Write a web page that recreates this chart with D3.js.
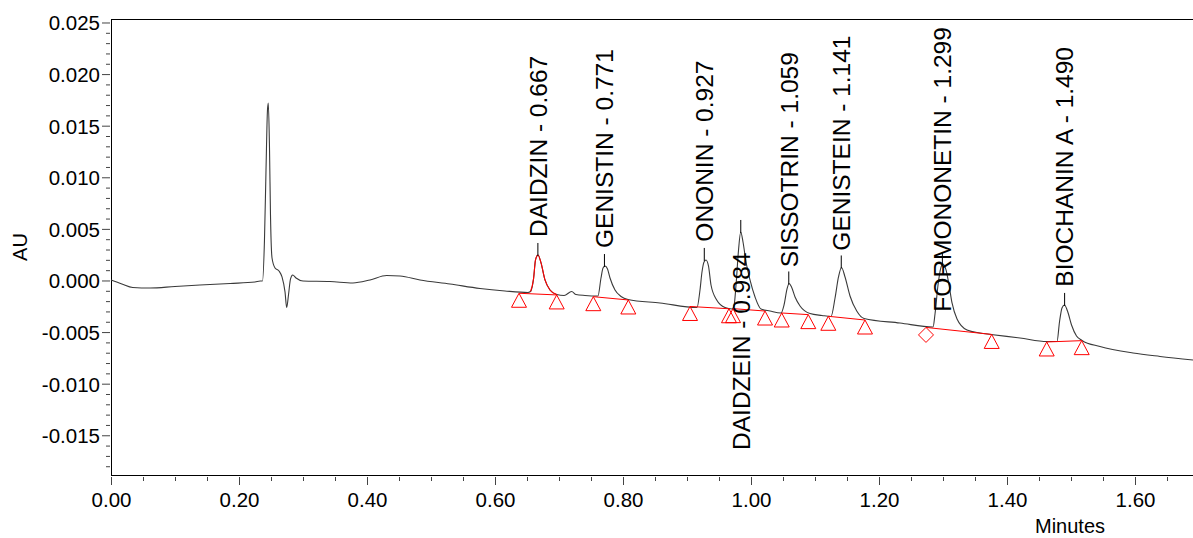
<!DOCTYPE html>
<html>
<head>
<meta charset="utf-8">
<script src="https://cdn.jsdelivr.net/npm/d3@7"></script>
<style>
  html, body { margin: 0; padding: 0; background: #fff; }
  svg { display: block; }
  text { font-family: "Liberation Sans", Arial, sans-serif; fill: #000; }
</style>
</head>
<body>
<svg id="chart" width="1193" height="538"></svg>
<script>
// ---------- DATA ----------
const traceTime = [0, 0.017, 0.034, 0.061, 0.100, 0.139, 0.186, 0.225, 0.233,
  0.2367, 0.2398, 0.2422, 0.2445, 0.2458, 0.2477, 0.2492, 0.2516, 0.2563, 0.2625, 0.2672,
  0.2719, 0.2745, 0.2773, 0.2805, 0.2839, 0.2891, 0.300, 0.3422, 0.378, 0.4047, 0.4308,
  0.4516, 0.4828, 0.5297, 0.5766, 0.6156, 0.6516,
  0.6555, 0.6602, 0.6633, 0.6672, 0.6719, 0.6781, 0.6859, 0.6964,
  0.708, 0.7198, 0.7266, 0.7406,
  0.7609, 0.7656, 0.7688, 0.7719, 0.7758, 0.7797, 0.7875, 0.7969, 0.8078,
  0.8578, 0.9156,
  0.9203, 0.9234, 0.9266, 0.9297, 0.9336, 0.9375, 0.9464, 0.9594, 0.9703,
  0.9734, 0.9766, 0.9805, 0.9839, 0.9875, 0.9922, 0.9984, 1.0063, 1.0156, 1.0297, 1.0469,
  1.0516, 1.0563, 1.0594, 1.0633, 1.0688, 1.0766, 1.0922, 1.1109,
  1.1250, 1.1313, 1.1367, 1.1414, 1.1469, 1.1547, 1.1652, 1.1766, 1.2328, 1.2844,
  1.2875, 1.2922, 1.2961, 1.3000, 1.3047, 1.3094, 1.3141, 1.3219, 1.3375, 1.3578, 1.375,
  1.4203, 1.4625,
  1.4781, 1.482, 1.4859, 1.4898, 1.4945, 1.5008, 1.5086, 1.5172,
  1.5453, 1.5969, 1.6391, 1.6906];
const traceAU = [0.00005, -0.00034, -0.00068, -0.00073, -0.00058, -0.00044, -0.00029, -0.00015, -0.00005,
  -0.00005, 0.00392, 0.01071, 0.01652, 0.0172, 0.01265, 0.00635, 0.00218, 0.00121, 0.00092, 0.00034,
  -0.00111, -0.00262, -0.00141, 0.00015, 0.00053, 0.00024, -0.00005, -0.0001, -0.00024, 0.00005, 0.00048,
  0.00044, 0.00005, -0.00034, -0.00078, -0.00102, -0.00116,
  -0.00107, 0.00015, 0.00199, 0.00247, 0.0017, 0.00005, -0.00092, -0.00136,
  -0.00145, -0.00107, -0.00136, -0.00145,
  -0.0015, 0.00024, 0.00121, 0.0014, 0.00111, 0.00024, -0.00092, -0.00155, -0.00184,
  -0.00218, -0.00262,
  -0.00092, 0.00082, 0.00179, 0.00199, 0.0014, -0.00044, -0.00189, -0.00262, -0.00276,
  -0.00247, -0.00044, 0.00296, 0.0047, 0.00373, 0.00179, 0.00005, -0.0016, -0.00276, -0.00296, -0.00315,
  -0.00237, -0.00082, -0.00029, -0.00063, -0.0016, -0.00247, -0.0032, -0.00339,
  -0.00349, -0.0017, 0.00034, 0.00126, 0.00034, -0.0015, -0.00296, -0.00368, -0.00412, -0.00451,
  -0.00325, -0.00044, 0.00111, 0.0016, 0.00102, -0.00044, -0.00218, -0.00373, -0.0048, -0.00509, -0.00523,
  -0.00557, -0.00591,
  -0.00591, -0.00402, -0.00266, -0.00237, -0.00296, -0.00431, -0.00538, -0.00581,
  -0.0064, -0.00703, -0.00736, -0.0077];

const peakNames = ["DAIDZIN", "GENISTIN", "ONONIN", "DAIDZEIN", "SISSOTRIN", "GENISTEIN", "FORMONONETIN", "BIOCHANIN A"];
const peakTimes = [0.667, 0.771, 0.927, 0.984, 1.059, 1.141, 1.299, 1.490];
const peakApexAU = [0.00247, 0.0014, 0.00199, 0.0047, -0.00029, 0.00126, 0.0016, -0.00237];
const labelStartAU = [0.00422, 0.00315, 0.00376, -0.01642, 0.00128, 0.00289, -0.00302, -0.0006];

const blStartT  = [0.6375, 0.7536, 0.9047, 0.9719, 1.0480, 1.1208, 1.2734, 1.4620];
const blStartAU = [-0.00124, -0.00157, -0.00252, -0.00273, -0.00315, -0.00347, -0.00455, -0.00596];
const blEndT    = [0.6964, 0.8083, 0.9656, 1.0219, 1.0895, 1.1781, 1.3761, 1.5167];
const blEndAU   = [-0.0014, -0.00189, -0.00274, -0.00296, -0.00331, -0.00383, -0.00523, -0.00583];
const blStartMarker = ["tri", "tri", "tri", "tri", "tri", "tri", "dia", "tri"];

const xTicks = [0, 0.2, 0.4, 0.6, 0.8, 1.0, 1.2, 1.4, 1.6];
const xTickLabels = ["0.00", "0.20", "0.40", "0.60", "0.80", "1.00", "1.20", "1.40", "1.60"];
const yTicks = [-0.015, -0.010, -0.005, 0, 0.005, 0.010, 0.015, 0.020, 0.025];
const yTickLabels = ["-0.015", "-0.010", "-0.005", "0.000", "0.005", "0.010", "0.015", "0.020", "0.025"];
const xDomain = [0, 1.6906];
const yDomain = [-0.01885, 0.02529];
const xTitle = "Minutes";
const yTitle = "AU";

// ---------- DRAW ----------
const svg = d3.select("#chart");
const L = 111, R = 1193, T = 19.5, B = 475;
const x = d3.scaleLinear().domain(xDomain).range([L, R]);
const y = d3.scaleLinear().domain(yDomain).range([B, T]);

const xMinor = d3.range(0, 34).map(i => i * 0.05).filter(v => v <= xDomain[1] && !xTicks.some(t => Math.abs(t - v) < 1e-9));
const yMinor = d3.range(-18, 26).map(i => i * 0.001).filter(v => !yTicks.some(t => Math.abs(t - v) < 1e-9));

// Y axis
const yMajor = svg.append("g").attr("transform", `translate(${L - 1},0)`)
  .call(d3.axisLeft(y).tickValues(yTicks).tickSize(8).tickPadding(2)
    .tickFormat((d, i) => yTickLabels[i]));
yMajor.select(".domain").remove();
yMajor.selectAll("line").attr("stroke", "#444");
yMajor.selectAll("text").style("font-size", "20.5px").attr("dy", "0.36em")
  .style("font-family", '"Liberation Sans", Arial, sans-serif');
const yMin = svg.append("g").attr("transform", `translate(${L - 1},0)`)
  .call(d3.axisLeft(y).tickValues(yMinor).tickSize(4).tickFormat(""));
yMin.select(".domain").remove();
yMin.selectAll("line").attr("stroke", "#444");

// X axis
const xMajor = svg.append("g").attr("transform", `translate(0,${B + 2})`)
  .call(d3.axisBottom(x).tickValues(xTicks).tickSize(8).tickPadding(7)
    .tickFormat((d, i) => xTickLabels[i]));
xMajor.select(".domain").remove();
xMajor.selectAll("line").attr("stroke", "#444");
xMajor.selectAll("text").style("font-size", "20.5px")
  .style("font-family", '"Liberation Sans", Arial, sans-serif');
const xMin = svg.append("g").attr("transform", `translate(0,${B + 2})`)
  .call(d3.axisBottom(x).tickValues(xMinor).tickSize(4).tickFormat(""));
xMin.select(".domain").remove();
xMin.selectAll("line").attr("stroke", "#444");

// frame lines
svg.append("line").attr("x1", L + 0.5).attr("x2", L + 0.5).attr("y1", T).attr("y2", B).attr("stroke", "#000");
svg.append("line").attr("x1", L).attr("x2", R).attr("y1", B + 0.5).attr("y2", B + 0.5).attr("stroke", "#000");
svg.append("line").attr("x1", L).attr("x2", R).attr("y1", T).attr("y2", T).attr("stroke", "#000");

// titles
svg.append("text").attr("transform", `translate(20,247) rotate(-90)`)
  .attr("text-anchor", "middle").attr("dy", "0.36em").style("font-size", "20px").text(yTitle);
svg.append("text").attr("x", 1070).attr("y", 533).attr("text-anchor", "middle")
  .style("font-size", "20px").text(xTitle);

// trace
const pts = traceTime.map((t, i) => [t, traceAU[i]]);
const line = d3.line().x(d => x(d[0])).y(d => y(d[1])).curve(d3.curveMonotoneX);
svg.append("path").datum(pts).attr("d", line)
  .attr("fill", "none").attr("stroke", "#3a3a3a").attr("stroke-width", 1.1);

// highlighted first peak in red
const redPts = pts.filter(d => d[0] >= blStartT[0] + 0.017 && d[0] <= blEndT[0] + 1e-6);
svg.append("path").datum(redPts).attr("d", line)
  .attr("fill", "none").attr("stroke", "#ff0000").attr("stroke-width", 1.1);

// integration baselines
const bl = blStartT.map((t, i) => ({ t0: t, v0: blStartAU[i], t1: blEndT[i], v1: blEndAU[i], m: blStartMarker[i] }));
svg.append("g").selectAll("line").data(bl).join("line")
  .attr("x1", d => x(d.t0)).attr("y1", d => y(d.v0))
  .attr("x2", d => x(d.t1)).attr("y2", d => y(d.v1))
  .attr("stroke", "#ff0000").attr("stroke-width", 1);

// markers
const tri = (px, py) => `M${px},${py} L${px - 7.5},${py + 14} L${px + 7.5},${py + 14} Z`;
const dia = (px, py) => `M${px},${py} L${px + 7.5},${py + 7.5} L${px},${py + 15} L${px - 7.5},${py + 7.5} Z`;
const markers = [];
bl.forEach(d => {
  markers.push({ t: d.t0, v: d.v0, m: d.m });
  markers.push({ t: d.t1, v: d.v1, m: "tri" });
});
svg.append("g").selectAll("path").data(markers).join("path")
  .attr("d", d => d.m === "dia" ? dia(x(d.t), y(d.v)) : tri(x(d.t), y(d.v)))
  .attr("fill", "none").attr("stroke", "#ff0000").attr("stroke-width", 1);

// peak label ticks and labels
const peaks = peakNames.map((n, i) => ({ n, t: peakTimes[i], a: peakApexAU[i], l: labelStartAU[i] }));
svg.append("g").selectAll("line").data(peaks).join("line")
  .attr("x1", d => x(d.t)).attr("x2", d => x(d.t))
  .attr("y1", d => y(d.a) + 1).attr("y2", d => y(d.a) - 12)
  .attr("stroke", "#000").attr("stroke-width", 1);
svg.append("g").selectAll("text").data(peaks).join("text")
  .attr("transform", d => `translate(${x(d.t)},${y(d.l)}) rotate(-90)`)
  .attr("dy", "0.36em").attr("text-anchor", "start")
  .style("font-size", "24.5px")
  .text(d => `${d.n} - ${d.t.toFixed(3)}`);
</script>
</body>
</html>
